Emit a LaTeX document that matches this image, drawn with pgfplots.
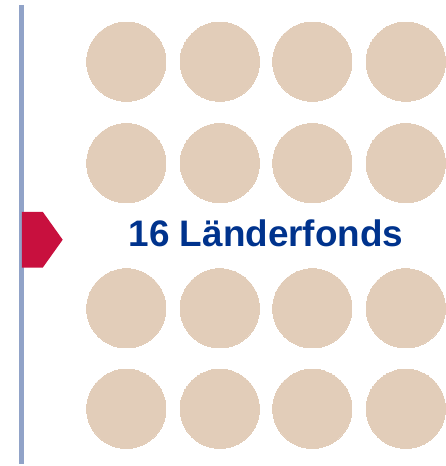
\documentclass[border=0pt]{standalone}
\usepackage{pgfplots}
\pgfplotsset{compat=1.18}
\usepackage{fontspec}
\setmainfont{Liberation Sans}
\definecolor{beige}{RGB}{226,205,185}
\definecolor{barblue}{RGB}{145,163,200}
\definecolor{arrowred}{RGB}{200,16,62}
\definecolor{textblue}{RGB}{0,51,141}
\begin{document}
\begin{tikzpicture}
\begin{axis}[
  scale only axis, width=4.47in, height=4.66in,
  xmin=0, xmax=447, ymin=0, ymax=466, y dir=reverse,
  hide axis, clip=false,
]
\path (rel axis cs:0,0) rectangle (rel axis cs:1,1);
\addplot[beige, only marks, mark=*, mark size=28.8pt, mark options={fill=beige, draw=beige, line width=0pt}] coordinates {
(127,62) (221,62) (314,62) (408,62)
(127,164) (221,164) (314,164) (408,164)
(127,310) (221,310) (314,310) (408,310)
(127,411) (221,411) (314,411) (408,411)
};
\addplot[barblue, line width=3.6pt] coordinates {(21.5,5) (21.5,466)};
\addplot[draw=none, fill=arrowred] coordinates {(22,213) (43,213) (63,241) (43,269) (22,269)} -- cycle;
\node[text=textblue, font=\fontsize{26.8}{30}\selectfont\bfseries, anchor=base] at (axis cs:267.5,248) {16 Länderfonds};
\end{axis}
\end{tikzpicture}
\end{document}
